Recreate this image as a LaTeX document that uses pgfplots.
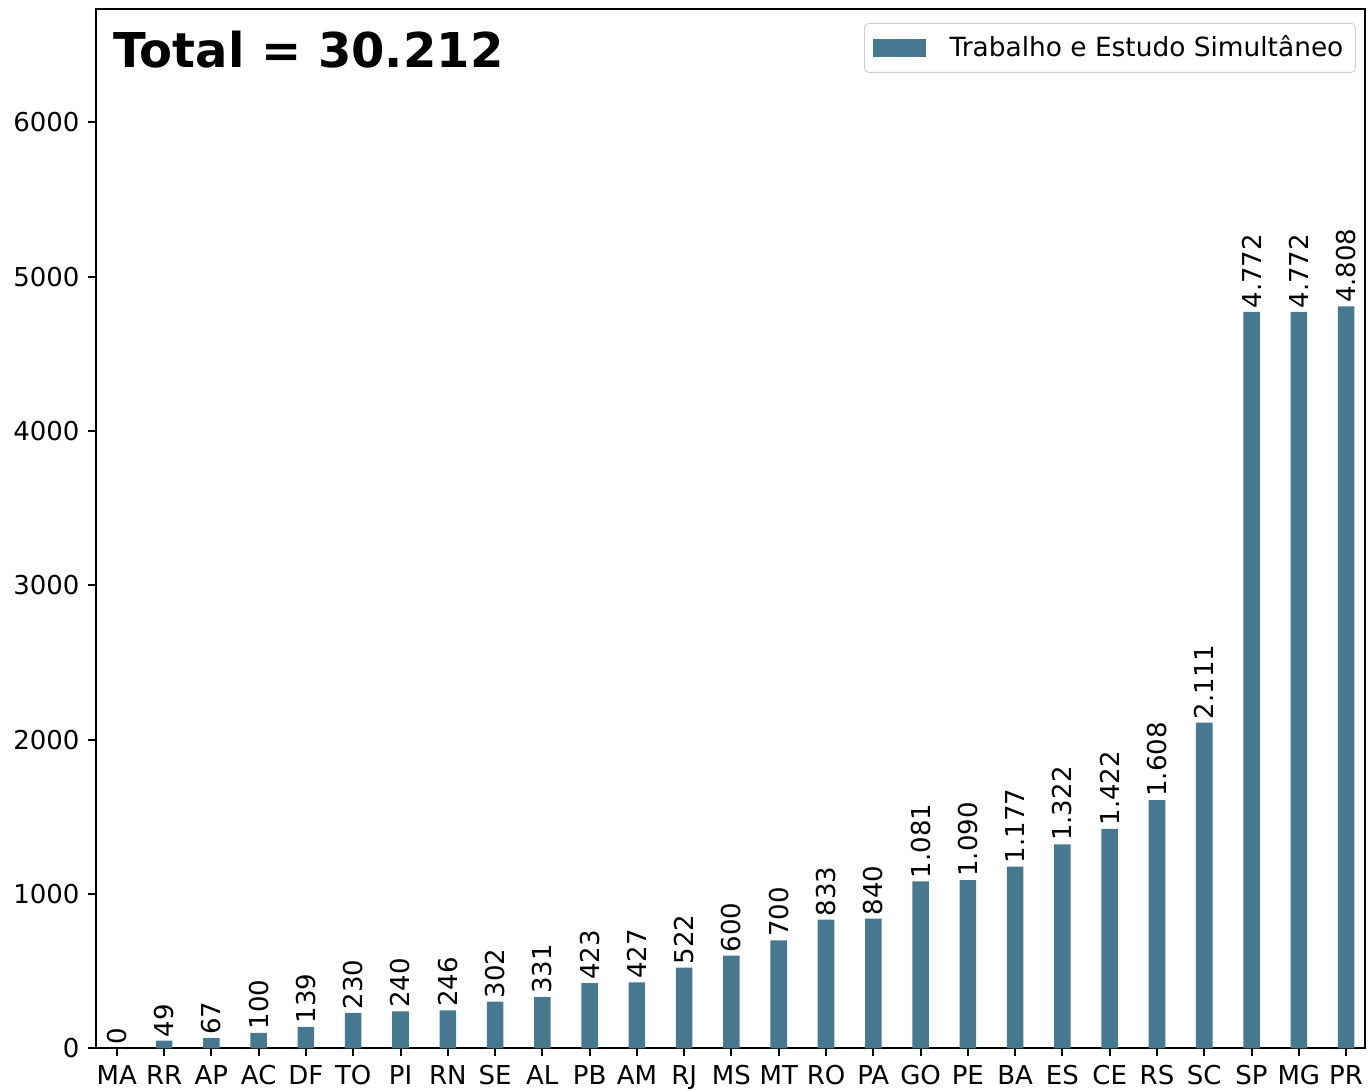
\documentclass[border=0pt]{standalone}
\usepackage{fontspec}
\setmainfont{DejaVu Sans}
\usepackage{pgfplots}
\pgfplotsset{compat=1.18}
\usepackage{pgfplotstable}
\definecolor{barc}{RGB}{70,120,144}
\pgfplotstableread{
x y label
0 0 0
1 49 49
2 67 67
3 100 100
4 139 139
5 230 230
6 240 240
7 246 246
8 302 302
9 331 331
10 423 423
11 427 427
12 522 522
13 600 600
14 700 700
15 833 833
16 840 840
17 1081 1.081
18 1090 1.090
19 1177 1.177
20 1322 1.322
21 1422 1.422
22 1608 1.608
23 2111 2.111
24 4772 4.772
25 4772 4.772
26 4808 4.808
}\datatab
\begin{document}
\fontsize{13}{15.6}\selectfont
\begin{tikzpicture}
\path[use as bounding box] (-48.25pt,-21.35pt) rectangle (637.75pt,524.15pt);
\begin{axis}[
  at={(0,0)}, anchor=south west,
  scale only axis, width=634.25pt, height=519.4pt,
  xmin=-0.43, xmax=26.40, ymin=0, ymax=6731.2,
  ybar, bar width=0.35,
  xtick={0,...,26},
  xticklabels={MA,RR,AP,AC,DF,TO,PI,RN,SE,AL,PB,AM,RJ,MS,MT,RO,PA,GO,PE,BA,ES,CE,RS,SC,SP,MG,PR},
  ytick={0,1000,2000,3000,4000,5000,6000},
  /pgf/number format/assume math mode=true,
  /pgf/number format/1000 sep={},
  xtick pos=bottom, ytick pos=left,
  tick align=outside,
  major tick length=4pt,
  tick style={black, line width=1pt},
  axis line style={black, line width=1pt},
  ticklabel style={font=\fontsize{13}{15.6}\selectfont},
  point meta=explicit symbolic,
  nodes near coords,
  every node near coord/.append style={rotate=90, anchor=west, inner sep=1.5pt, font=\fontsize{13}{15.6}\selectfont, black},
  legend style={at={(rel axis cs:0.9927,0.987)}, anchor=north east, draw=black!20, rounded corners=2pt, fill=white, font=\fontsize{13.2}{15.8}\selectfont, inner xsep=4pt, inner ysep=4pt,
    /tikz/every odd column/.append style={column sep=10pt}},
  legend image code/.code={\fill[barc, sharp corners] (0pt,-4.5pt) rectangle (26.5pt,4.5pt);},
]
\addplot[fill=barc, draw=none] table[x=x, y=y, meta=label] {\datatab};
\addlegendentry{Trabalho e Estudo Simultâneo}
\node[anchor=base west, font=\fontsize{24}{28}\selectfont\bfseries, inner sep=0pt] at (rel axis cs:0.013,0.9437) {Total = 30.212};
\end{axis}
\end{tikzpicture}
\end{document}
